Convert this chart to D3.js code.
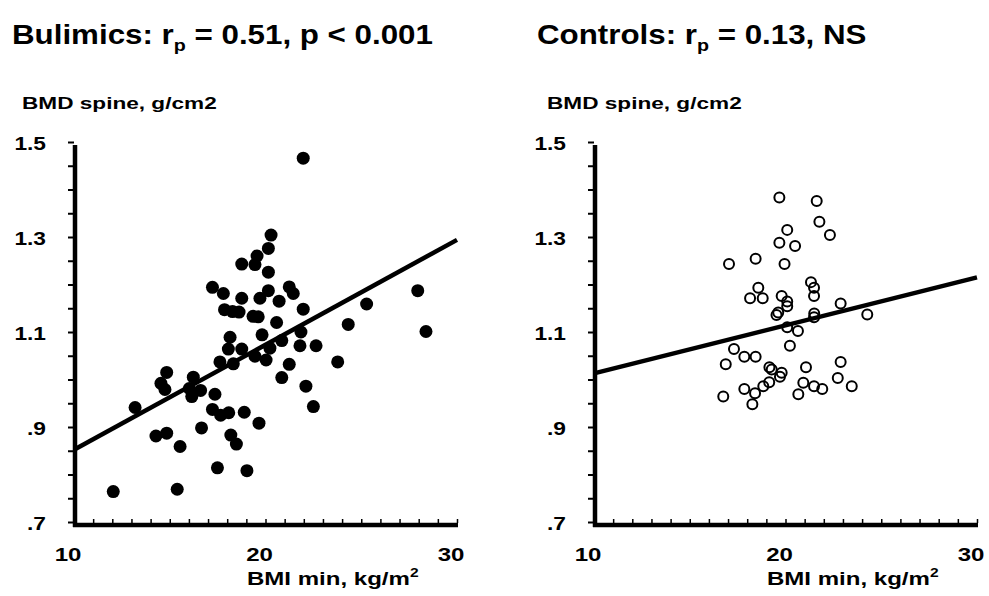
<!DOCTYPE html>
<html><head><meta charset="utf-8">
<script src="https://cdn.jsdelivr.net/npm/d3@7"></script>
<style>body{margin:0;background:#fff}svg{display:block}text{font-family:"Liberation Sans",Arial,sans-serif;font-weight:bold;fill:#000}</style>
</head><body><svg id="c" width="989" height="596"></svg>
<script>
// Bulimics: [BMI min, BMD spine]
const bulimicsBMI = [12.05,15.39,17.49,19.03,15.54,14.28,14.84,16.66,13.19,14.84,14.54,14.75,16.23,16.02,16.61,16.15,17.36,17.23,17.66,18.08,18.89,18.19,18.48,17.62,18.32,18.15,18.06,18.76,19.45,19.82,19.66,17.86,18.28,18.62,19.35,19.62,18.76,19.71,20.71,21.97,20.58,25.28,24.32,28.38,20.03,20.23,20.85,21.85,21.80,22.64,21.24,20.85,22.11,23.77,22.50,21.97,20.29,20.15,19.56,18.76,19.45,20.15,17.23,17.80,20.15,21.24,21.45,27.95];
const bulimicsBMD = [0.764,0.769,0.814,0.808,0.859,0.881,0.887,0.898,0.941,1.015,0.992,0.979,1.005,0.981,0.977,0.964,0.969,0.937,0.925,0.930,0.931,0.883,0.864,1.037,1.033,1.089,1.064,1.064,1.049,1.094,0.908,1.147,1.143,1.142,1.133,1.132,1.171,1.171,1.165,1.148,1.120,1.159,1.116,1.101,1.041,1.066,1.082,1.100,1.071,1.071,1.032,1.004,0.986,1.037,0.943,1.466,1.304,1.276,1.260,1.243,1.242,1.226,1.194,1.181,1.187,1.195,1.181,1.187];
// Controls
const controlsBMI = [19.68,21.63,21.77,22.32,20.09,19.68,20.50,17.05,18.44,19.95,21.33,21.49,21.49,18.58,18.15,18.81,19.80,20.09,20.09,19.62,19.53,22.88,21.50,21.49,24.27,20.09,20.65,20.23,17.31,17.85,18.44,16.88,19.16,19.28,19.80,19.71,19.15,18.84,17.85,18.41,16.75,18.27,21.07,22.88,20.93,21.49,21.92,22.73,23.46,20.67];
const controlsBMD = [1.383,1.376,1.332,1.304,1.315,1.288,1.281,1.243,1.254,1.243,1.205,1.193,1.176,1.193,1.171,1.171,1.176,1.164,1.154,1.141,1.136,1.160,1.139,1.131,1.137,1.110,1.102,1.071,1.064,1.048,1.048,1.032,1.026,1.021,1.014,1.006,0.994,0.986,0.980,0.971,0.964,0.948,1.026,1.037,0.993,0.986,0.980,1.003,0.986,0.969];
// regression fits: [intercept, slope]
const bulimicsFit = [0.631, 0.0221];
const controlsFit = [0.912, 0.0101];
const xDomain = [10, 30];
const yDomain = [0.7, 1.5];
const xTickLabels = [10, 20, 30];
const yTickLabels = [[1.5,"1.5"],[1.3,"1.3"],[1.1,"1.1"],[0.9,".9"],[0.7,".7"]];
const titles = [["Bulimics: r","p"," = 0.51, p < 0.001"],["Controls: r","p"," = 0.13, NS"]];
const yAxisTitle = "BMD spine, g/cm2";
const xAxisTitle = ["BMI min, kg/m","2"];

const svg = d3.select("#c");
const SX = 1.3;
function stext(g, x, y, size, sx, anchor){
  const t = g.append("text").attr("font-size", size)
    .attr("transform", `translate(${x},${y}) scale(${sx},1)`);
  if (anchor) t.attr("text-anchor", anchor);
  return t;
}

function panel(ox, tx, bmi, bmd, fit, filled, title){
  const g = svg.append("g");
  const x = d3.scaleLinear().domain(xDomain).range([74 + ox, 457 + ox]);
  const y = d3.scaleLinear().domain(yDomain).range([522, 142]);
  // title
  const t = stext(g, tx, 43.5, 27, 1.16);
  t.append("tspan").text(title[0]);
  t.append("tspan").attr("font-size", 17).attr("dy", 7).text(title[1]);
  t.append("tspan").attr("dy", -7).text(title[2]);
  // y title
  stext(g, tx + 10, 108.5, 17, 1.33).text(yAxisTitle);
  // y ticks
  const ya = d3.axisLeft(y).tickValues(d3.range(0.7, 1.5001, 0.05)).tickSize(6).tickFormat("");
  const yg = g.append("g").attr("transform", `translate(${75 + ox - 1},0)`).call(ya);
  yg.select(".domain").remove();
  yg.selectAll("line").attr("stroke", "#000").attr("stroke-width", 2);
  // x ticks
  const xa = d3.axisBottom(x).tickValues(d3.range(10, 30.001, 1)).tickSize(-4).tickFormat("");
  const xg = g.append("g").attr("transform", `translate(0,${523})`).call(xa);
  xg.select(".domain").remove();
  xg.selectAll("line").attr("stroke", "#000").attr("stroke-width", 1.5);
  // axis lines
  g.append("line").attr("x1", 75 + ox).attr("x2", 75 + ox).attr("y1", 145).attr("y2", 527)
    .attr("stroke", "#000").attr("stroke-width", 4.5);
  g.append("line").attr("x1", 73 + ox).attr("x2", x(30) + 1).attr("y1", 525).attr("y2", 525)
    .attr("stroke", "#000").attr("stroke-width", 4.5);
  // y labels
  yTickLabels.forEach(([v, s]) => stext(g, 46 + ox, y(v) + 8, 17.5, SX, "end").text(s));
  // x labels
  xTickLabels.forEach(v => stext(g, x(v) - 6, 561, 18.5, SX, "middle").text(v));
  // x title
  const xt = stext(g, 247 + ox, 585, 18.5, SX);
  xt.append("tspan").text(xAxisTitle[0]);
  xt.append("tspan").attr("font-size", 12).attr("dy", -8).text(xAxisTitle[1]);
  // points
  const pts = bmi.map((b, i) => [b, bmd[i]]);
  g.append("g").selectAll("circle").data(pts).join("circle")
    .attr("cx", d => x(d[0])).attr("cy", d => y(d[1]))
    .attr("r", filled ? 6.5 : 5)
    .attr("fill", filled ? "#000" : "none")
    .attr("stroke", filled ? "none" : "#000").attr("stroke-width", 2);
  // fit line
  const line = d3.line().x(d => x(d)).y(d => y(fit[0] + fit[1] * d));
  g.append("path").attr("d", line(xDomain)).attr("fill", "none")
    .attr("stroke", "#000").attr("stroke-width", 4.5);
}
panel(0, 12, bulimicsBMI, bulimicsBMD, bulimicsFit, true, titles[0]);
panel(520, 537, controlsBMI, controlsBMD, controlsFit, false, titles[1]);
</script></body></html>
